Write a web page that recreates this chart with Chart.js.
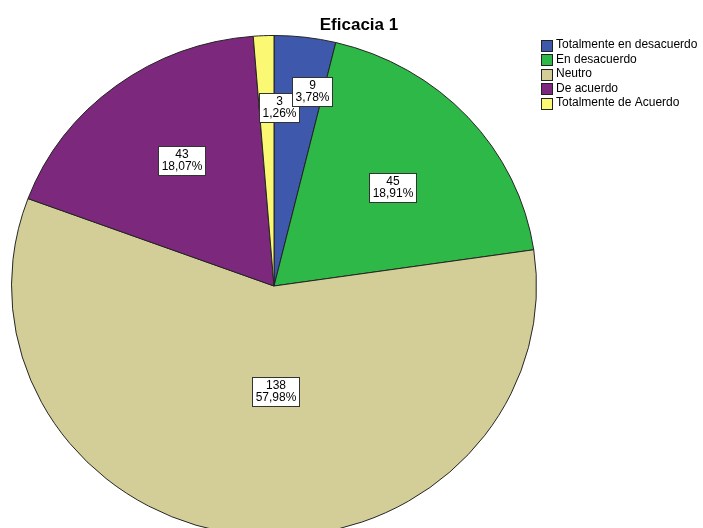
<!DOCTYPE html>
<html lang="es">
<head>
<meta charset="utf-8">
<title>Eficacia 1</title>
<script src="https://cdn.jsdelivr.net/npm/chart.js@4/dist/chart.umd.min.js"></script>
<style>
  body { margin: 0; background: #fff; }
  #marco { width: 703px; height: 528px; overflow: hidden; position: relative; background: #fff; }
  #grafico { display: block; }
</style>
</head>
<body>
<div id="marco">
  <canvas id="grafico" width="703" height="620"></canvas>
</div>
<script>
// Datos del gráfico
const titulo = 'Eficacia 1';
const categorias = ['Totalmente en desacuerdo', 'En desacuerdo', 'Neutro', 'De acuerdo', 'Totalmente de Acuerdo'];
const frecuencias = [9, 45, 138, 43, 3];
const colores = ['#3E58AC', '#2EB848', '#D3CE97', '#7C287D', '#FBF873'];

// Ubicación de las etiquetas: fracción del radio y giro en grados
const radioEtiqueta = [0.79, 0.60, 0.422, 0.611, 0.711];
const giroEtiqueta = [3.7, 1.3, -6.85, 1.97, 3.95];

// La torta se dibuja algo achatada en vertical
const aplanado = 251 / 263;

const fuente = "'Liberation Sans', Arial, sans-serif";
const total = frecuencias.reduce((a, b) => a + b, 0);
const porcentaje = v => (v / total * 100).toFixed(2).replace('.', ',') + '%';

const achatar = {
    id: 'achatar',
    beforeDatasetsDraw(chart) {
        const ctx = chart.ctx;
        const cy = (chart.chartArea.top + chart.chartArea.bottom) / 2;
        ctx.save();
        ctx.translate(0, cy);
        ctx.scale(1, aplanado);
        ctx.translate(0, -cy);
    },
    afterDatasetsDraw(chart) {
        chart.ctx.restore();
    }
};

// Cajas con frecuencia y porcentaje sobre cada sector
const etiquetasSectores = {
    id: 'etiquetasSectores',
    afterDraw(chart) {
        const ctx = chart.ctx;
        const meta = chart.getDatasetMeta(0);
        ctx.save();
        ctx.font = '12px ' + fuente;
        ctx.textAlign = 'center';
        ctx.textBaseline = 'middle';
        // de atrás hacia adelante: la primera caja queda encima
        for (let i = meta.data.length - 1; i >= 0; i--) {
            const arco = meta.data[i];
            const { x, y, startAngle, endAngle, outerRadius } =
                arco.getProps(['x', 'y', 'startAngle', 'endAngle', 'outerRadius'], true);
            const ang = (startAngle + endAngle) / 2 + giroEtiqueta[i] * Math.PI / 180;
            const px = x + Math.cos(ang) * outerRadius * radioEtiqueta[i];
            const py = y + Math.sin(ang) * outerRadius * radioEtiqueta[i] * aplanado;
            const lineas = [String(frecuencias[i]), porcentaje(frecuencias[i])];
            const ancho = Math.round(Math.max(...lineas.map(t => ctx.measureText(t).width)) + 6);
            const alto = 29;
            const bx = Math.round(px - ancho / 2) + 0.5;
            const by = Math.round(py - alto / 2) + 0.5;
            ctx.fillStyle = '#fff';
            ctx.fillRect(bx, by, ancho, alto);
            ctx.strokeStyle = '#333';
            ctx.lineWidth = 1;
            ctx.strokeRect(bx, by, ancho, alto);
            ctx.fillStyle = '#000';
            ctx.fillText(lineas[0], bx + ancho / 2, by + 8.5);
            ctx.fillText(lineas[1], bx + ancho / 2, by + 20.5);
        }
        ctx.restore();
    }
};

// Título y leyenda a la derecha
const tituloYLeyenda = {
    id: 'tituloYLeyenda',
    afterDraw(chart) {
        const ctx = chart.ctx;
        ctx.save();
        ctx.fillStyle = '#000';
        ctx.font = 'bold 17px ' + fuente;
        ctx.textAlign = 'center';
        ctx.textBaseline = 'alphabetic';
        ctx.fillText(titulo, 359, 30);

        ctx.font = '12px ' + fuente;
        ctx.textAlign = 'left';
        ctx.textBaseline = 'middle';
        categorias.forEach((cat, i) => {
            const cy = 45 + i * 14.5;
            ctx.fillStyle = colores[i];
            ctx.fillRect(541.5, Math.round(cy - 5.5) + 0.5, 11, 11);
            ctx.strokeStyle = '#222';
            ctx.lineWidth = 1;
            ctx.strokeRect(541.5, Math.round(cy - 5.5) + 0.5, 11, 11);
            ctx.fillStyle = '#000';
            ctx.fillText(cat, 556, cy);
        });
        ctx.restore();
    }
};

const grafico = new Chart(document.getElementById('grafico'), {
    type: 'pie',
    data: {
        labels: categorias,
        datasets: [{
            data: frecuencias,
            backgroundColor: colores,
            borderColor: '#222',
            borderWidth: 1
        }]
    },
    options: {
        responsive: false,
        animation: false,
        layout: { padding: { left: 11, top: 23, right: 166, bottom: 71 } },
        plugins: { legend: { display: false }, tooltip: { enabled: false } }
    },
    plugins: [achatar, tituloYLeyenda, etiquetasSectores]
});
</script>
</body>
</html>
